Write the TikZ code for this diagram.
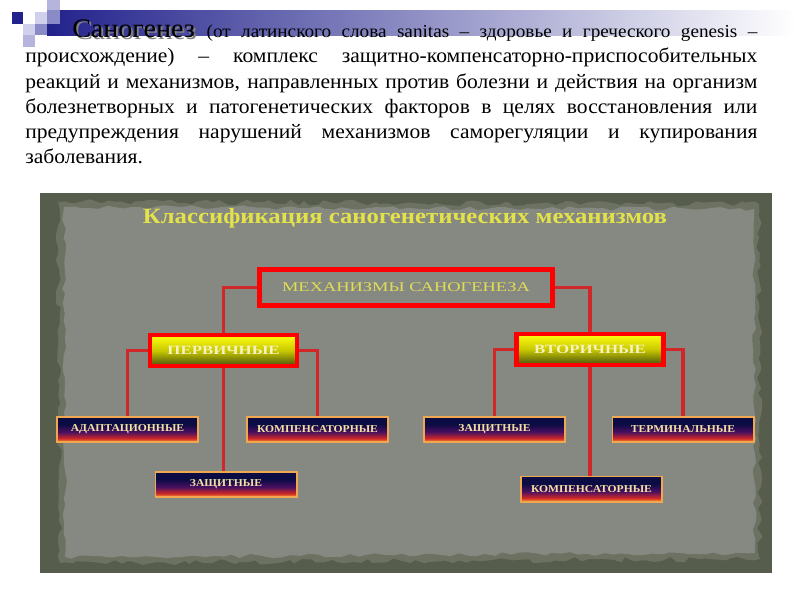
\documentclass[tikz,border=0pt]{standalone}
\usepackage{fontspec}
\setmainfont{Liberation Serif}
\newfontfamily\widefont[FakeStretch=1.05]{Liberation Serif}
\usepackage{graphicx}
\usetikzlibrary{decorations.pathmorphing}

\definecolor{barnavy}{HTML}{22228C}
\definecolor{sqlight}{HTML}{D0D0EC}
\definecolor{sqmid}{HTML}{8A8AC6}
\definecolor{sqpale}{HTML}{B4B4DC}
\definecolor{paperdark}{HTML}{565D4C}
\definecolor{paperrim}{HTML}{6C7162}
\definecolor{paper}{HTML}{868981}
\definecolor{titleyellow}{HTML}{E4E24A}
\definecolor{mainyellow}{HTML}{E0DC58}
\definecolor{levelcream}{HTML}{F6F2C0}
\definecolor{leafcream}{HTML}{F2E2A4}
\definecolor{linkred}{HTML}{D02828}
\definecolor{leafedge}{HTML}{F0A850}
\definecolor{leaftop}{HTML}{0C0C45}
\definecolor{leafpurple}{HTML}{4A1060}
\definecolor{leafred}{HTML}{D02828}
\definecolor{leafbot}{HTML}{F4A030}
\definecolor{levtop}{HTML}{FFFF10}
\definecolor{levmid}{HTML}{C8C800}
\definecolor{levbot}{HTML}{48500E}

\pgfdeclareverticalshading{leafshade}{100bp}{color(0bp)=(leafbot); color(25bp)=(leafbot); color(32bp)=(leafred); color(45bp)=(leafpurple); color(60bp)=(leaftop); color(100bp)=(leaftop)}
\pgfdeclareverticalshading{levelshade}{100bp}{color(0bp)=(levbot); color(25bp)=(levbot); color(50bp)=(levmid); color(75bp)=(levtop); color(100bp)=(levtop)}

\newcommand\stretchx[2]{\scalebox{#1}[1]{#2}}
\newcommand\bodyline[1]{\makebox[18.3cm][s]{#1}}

\begin{document}
\begin{tikzpicture}[x=0.025cm,y=-0.025cm,
  body/.style={anchor=base west,inner sep=0pt,font=\widefont\fontsize{14.6}{16}\selectfont},
  mainbox/.style={draw=red,line width=3.5pt,fill=paper,minimum width=7.325cm,minimum height=0.9cm,inner sep=0pt,text=mainyellow,font=\fontsize{9.5}{10}\selectfont},
  levelbox/.style={draw=red,line width=3.2pt,shading=levelshade,minimum width=3.675cm,minimum height=0.775cm,inner sep=0pt,text=levelcream,font=\fontsize{9}{10}\selectfont\bfseries},
  leafbox/.style={draw=leafedge,line width=1.4pt,shading=leafshade,minimum width=3.525cm,minimum height=0.625cm,inner sep=0pt,text=leafcream,font=\fontsize{7.5}{8}\selectfont\bfseries},
  link/.style={draw=linkred,line width=2.2pt}]
\useasboundingbox (0,0) rectangle (800,600);

% Header bar and squares
\shade[left color=barnavy,right color=white] (47,10) rectangle (795,35);
\fill[sqpale] (47,0) rectangle (60,12);
\fill[barnavy] (12,12) rectangle (23,24);
\fill[sqlight] (35,12) rectangle (47,24);
\fill[sqmid] (47,10) rectangle (60,24);
\fill[sqlight] (23,24) rectangle (35,35);
\fill[sqmid] (35,24) rectangle (47,35);
\fill[sqpale] (23,35) rectangle (35,47);

% Definition text
\node[anchor=base west,inner sep=0pt,text=gray,font=\widefont\fontsize{19}{20}\selectfont] (shadow) at (74,39) {Саногенез};
\node[body] (l1) at (72,37) {\makebox[17.125cm][s]{{\fontsize{19}{20}\selectfont Саногенез} \fontsize{13}{14}\selectfont (от латинского слова sanitas – здоровье и греческого genesis –}};
\node[body] (l2) at (25,62) {\bodyline{происхождение) – комплекс защитно-компенсаторно-приспособительных}};
\node[body] (l3) at (25,88) {\bodyline{реакций и механизмов, направленных против болезни и действия на организм}};
\node[body] (l4) at (25,113) {\bodyline{болезнетворных и патогенетических факторов в целях восстановления или}};
\node[body] (l5) at (25,138) {\bodyline{предупреждения нарушений механизмов саморегуляции и купирования}};
\node[body] (l6) at (25,163) {заболевания.};

% Paper
\fill[paperdark] (40,193) rectangle (772,573);
\pgfmathsetseed{7}
\fill[paperrim,decorate,decoration={random steps,segment length=5pt,amplitude=2pt}] (58,202) -- (759,204) -- (760,559) -- (60,563) -- cycle;
\fill[paper,decorate,decoration={random steps,segment length=6pt,amplitude=1.5pt}] (64,207) -- (754,209) -- (755,553) -- (65,557) -- cycle;

% Title
\node[text=titleyellow,font=\fontsize{15.5}{18}\selectfont\bfseries] (title) at (405,218) {\resizebox{13.1cm}{\height}{Классификация саногенетических механизмов}};

% Boxes
\node[mainbox] (main) at (406,287.5) {\stretchx{1.38}{МЕХАНИЗМЫ САНОГЕНЕЗА}};
\node[levelbox] (prim) at (223.5,350.5) {\stretchx{1.33}{ПЕРВИЧНЫЕ}};
\node[levelbox] (sec) at (590,349.5) {\stretchx{1.33}{ВТОРИЧНЫЕ}};

\node[leafbox] (adapt) at (127.5,429.5) {\stretchx{1.1}{АДАПТАЦИОННЫЕ}};
\node[leafbox] (kompA) at (317.5,429.5) {\stretchx{1.1}{КОМПЕНСАТОРНЫЕ}};
\node[leafbox] (zashA) at (226,484.5) {\stretchx{1.1}{ЗАЩИТНЫЕ}};
\node[leafbox] (zashB) at (494.5,429.5) {\stretchx{1.1}{ЗАЩИТНЫЕ}};
\node[leafbox] (term) at (683,429.5) {\stretchx{1.1}{ТЕРМИНАЛЬНЫЕ}};
\node[leafbox] (kompB) at (591.5,489) {\stretchx{1.1}{КОМПЕНСАТОРНЫЕ}};

% Connectors
\draw[link] (main.west) -| (prim.north);
\draw[link] (main.east) -| (sec.north);
\draw[link] (prim.west) -| (adapt.north);
\draw[link] (prim.east) -| (kompA.north);
\draw[link] (prim.south) -- (prim.south |- zashA.north);
\draw[link] (sec.west) -| (zashB.north);
\draw[link] (sec.east) -| (term.north);
\draw[link] (sec.south) -- (sec.south |- kompB.north);

\end{tikzpicture}
\end{document}
